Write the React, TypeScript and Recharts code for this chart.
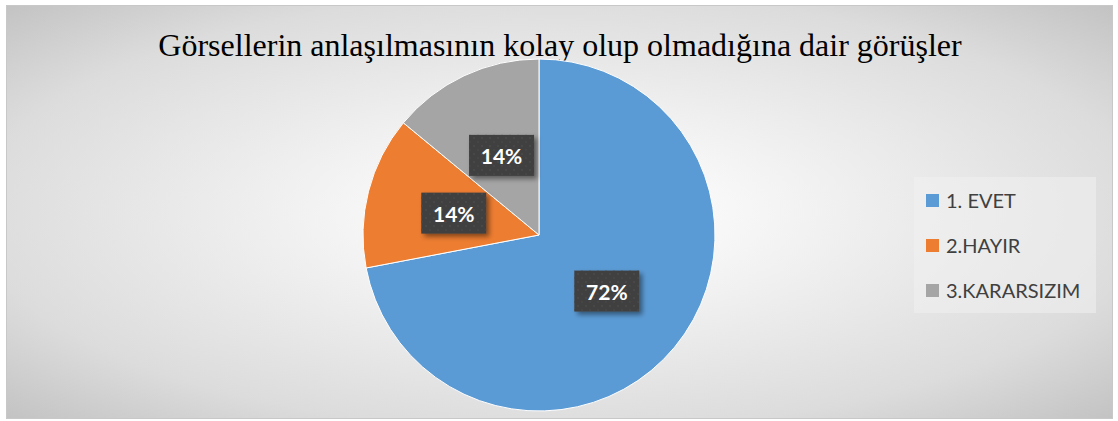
import React from 'react';
import { PieChart, Pie, Cell, Legend } from 'recharts';

const categories = ['1. EVET', '2.HAYIR', '3.KARARSIZIM'];
const shares = [72, 14, 14];
const colors = ['#5B9BD5', '#ED7D31', '#A5A5A5'];
const title = 'Görsellerin anlaşılmasının kolay olup olmadığına dair görüşler';

const data = categories.map((name, i) => ({ name, value: shares[i] }));

const RAD = Math.PI / 180;

const renderLabel = (props: any) => {
  const { cx, cy, midAngle, outerRadius, percent } = props;
  const r = outerRadius * 0.5;
  const x = cx + r * Math.cos(-midAngle * RAD);
  const y = cy + r * Math.sin(-midAngle * RAD);
  const w = 65;
  const h = 41;
  return (
    <g>
      <rect x={x - w / 2} y={y - h / 2} width={w} height={h} fill="#404040" filter="url(#lblShadow)" />
      <rect x={x - w / 2} y={y - h / 2} width={w} height={h} fill="url(#lblDots)" />
      <text
        x={x}
        y={y}
        textAnchor="middle"
        dominantBaseline="central"
        fill="#ffffff"
        fontFamily="Lato, 'Open Sans', sans-serif"
        fontWeight={700}
        fontSize={21}
      >
        {`${Math.round(percent * 100)}%`}
      </text>
    </g>
  );
};

const LegendBox = (props: any) => {
  const items = props.payload || [];
  return (
    <div
      style={{
        width: 182,
        height: 136,
        background: 'rgba(240,240,240,0.55)',
        position: 'relative',
        fontFamily: 'Lato, sans-serif',
        fontSize: 20,
        color: '#404040',
      }}
    >
      {items.map((item: any, i: number) => (
        <div
          key={item.value}
          style={{
            position: 'absolute',
            left: 12,
            top: 23 + i * 45 - 12,
            height: 24,
            display: 'flex',
            alignItems: 'center',
            whiteSpace: 'nowrap',
          }}
        >
          <span style={{ width: 13, height: 13, background: item.color, marginRight: 7, display: 'inline-block' }} />
          <span>{item.value}</span>
        </div>
      ))}
    </div>
  );
};

export default function App() {
  return (
    <div style={{ position: 'absolute', left: 0, top: 0, width: 1118, height: 421, background: '#ffffff' }}>
      <div
        style={{
          position: 'absolute',
          left: 6,
          top: 5,
          width: 1107,
          height: 414,
          boxSizing: 'border-box',
          border: '1px solid #c8c8c8',
          background:
            'radial-gradient(ellipse farthest-corner at 50% 50%, #ffffff 0%, #f7f7f7 22%, #dcdcdc 75%, #c3c3c3 100%)',
        }}
      />
      <svg width={1118} height={421} style={{ position: 'absolute', left: 0, top: 0 }}>
        <text
          x={560}
          y={56}
          textAnchor="middle"
          fontFamily="'Liberation Serif', 'Times New Roman', serif"
          fontSize={32}
          fill="#000000"
        >
          {title}
        </text>
      </svg>
      <div style={{ position: 'absolute', left: 0, top: 0 }}>
        <PieChart width={1118} height={421} margin={{ top: 0, right: 0, bottom: 0, left: 0 }}>
          <defs>
            <pattern id="lblDots" width={8} height={8} patternUnits="userSpaceOnUse">
              <circle cx={2} cy={2} r={0.9} fill="#4b4b4b" />
              <circle cx={6} cy={6} r={0.9} fill="#474747" />
            </pattern>
            <filter id="lblShadow" x="-30%" y="-30%" width="160%" height="160%">
              <feDropShadow dx={3} dy={3} stdDeviation={2.5} floodColor="#000000" floodOpacity={0.45} />
            </filter>
          </defs>
          <Pie
            data={data}
            dataKey="value"
            nameKey="name"
            cx={539}
            cy={235}
            outerRadius={176}
            startAngle={90}
            endAngle={-270}
            stroke="#ffffff"
            strokeWidth={1}
            label={renderLabel}
            labelLine={false}
            isAnimationActive={false}
          >
            {data.map((d, i) => (
              <Cell key={d.name} fill={colors[i]} />
            ))}
          </Pie>
          <Legend
            content={<LegendBox />}
            wrapperStyle={{ position: 'absolute', left: 914, top: 177, width: 182, height: 136 }}
          />
        </PieChart>
      </div>
    </div>
  );
}
